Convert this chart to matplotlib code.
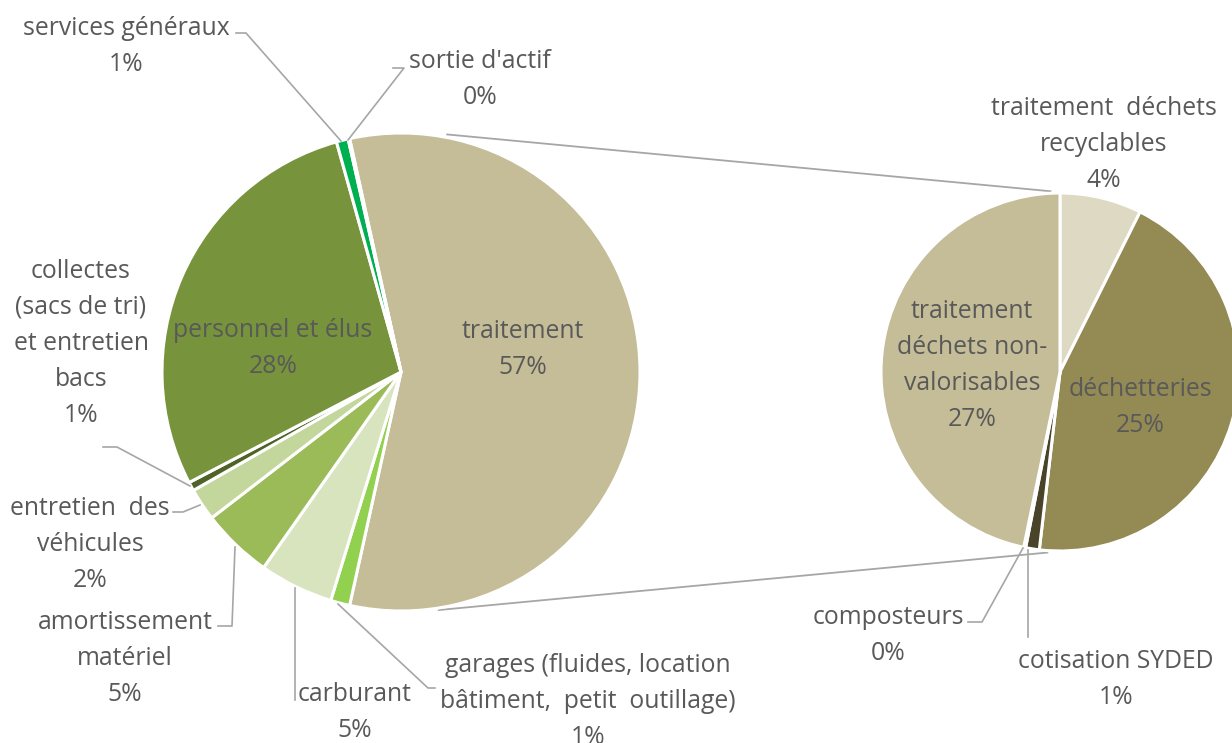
import matplotlib
matplotlib.use("Agg")
import matplotlib.pyplot as plt
import numpy as np

# ---------------- data ----------------
main_labels = ["traitement", "garages (fluides, location\nbâtiment,  petit  outillage)", "carburant",
               "amortissement\nmatériel", "entretien  des\nvéhicules",
               "collectes\n(sacs de tri)\net entretien\nbacs", "personnel et élus",
               "services généraux", "sortie d'actif"]
other_values = [1.3, 5.0, 4.8, 2.2, 0.6, 28.3, 0.8, 0.1]   # main pie slices after "traitement"

sub_labels = ["traitement  déchets\nrecyclables", "déchetteries", "cotisation SYDED", "composteurs",
              "traitement\ndéchets non-\nvalorisables"]
sub_values = [4.2, 25.3, 0.7, 0.1, 26.6]

main_colors = ["#C4BD97", "#92D050", "#D7E4BD", "#9BBB59", "#C3D69B", "#4F6228", "#77933C", "#00B050", "#FFFFFF"]
sub_colors = ["#DDD9C3", "#948A54", "#494429", "#FFFFFF", "#C4BD97"]

main_values = [sum(sub_values)] + other_values
total = sum(main_values)

# ---------------- figure ----------------
W, H = 1232, 743
fig = plt.figure(figsize=(W / 100, H / 100), dpi=100)
ax = fig.add_axes([0, 0, 1, 1])

def Y(y):
    return H - y

TXT = "#595959"
LEAD = "#A6A6A6"
FONT = "Open Sans"
FS = 17.8

mc = (401, Y(372)); mr = 239
sc = (1060, Y(372)); sr = 179
t_deg = main_values[0] / total * 360

ax.pie(main_values, colors=main_colors, startangle=t_deg / 2, counterclock=False,
       center=mc, radius=mr, wedgeprops=dict(edgecolor="white", linewidth=2.2))
ax.pie(sub_values, colors=sub_colors, startangle=90, counterclock=False,
       center=sc, radius=sr, wedgeprops=dict(edgecolor="white", linewidth=2.2))

# connector lines between the two pies
def pt(c, r, ang):
    a = np.deg2rad(ang)
    return c[0] + r * np.cos(a), c[1] + r * np.sin(a)

p1 = pt(mc, mr + 3, 79); p2 = pt(sc, sr + 2, 93)
q1 = pt(mc, mr + 2, -81); q2 = pt(sc, sr + 2, -94)
ax.plot([p1[0], p2[0]], [p1[1], p2[1]], color=LEAD, lw=1.3, zorder=0)
ax.plot([q1[0], q2[0]], [q1[1], q2[1]], color=LEAD, lw=1.3, zorder=0)

def pct(v):
    return f"{round(100 * v / total):.0f}%"

def label(text, v, cx, y0, step=36):
    lines = text.split("\n") + [pct(v)]
    for i, ln in enumerate(lines):
        ax.text(cx, Y(y0 + i * step), ln, ha="center", va="baseline",
                fontsize=FS, color=TXT, family=FONT, zorder=5)

def leader(pts):
    xs = [p[0] for p in pts]; ys = [Y(p[1]) for p in pts]
    ax.plot(xs, ys, color=LEAD, lw=1.2, zorder=4)

# main pie labels (center x, first baseline y)
main_pos = [(523, 338), (588, 672), (355, 701), (125, 629), (90, 515),
            (81, 278), (273, 337), (126, 35), (480, 68)]
for lab, v, (cx, y0) in zip(main_labels, main_values, main_pos):
    label(lab, v, cx, y0)

sub_pos = [(1104, 115), (1140, 396), (1116, 668), (888, 624), (972, 318)]
for lab, v, (cx, y0) in zip(sub_labels, sub_values, sub_pos):
    label(lab, v, cx, y0)

# leader lines
leader([(236, 33), (246, 33), (341, 141)])        # services généraux
leader([(393, 68), (404, 68), (348, 140)])        # sortie d'actif
leader([(103, 447), (117, 447), (190, 486)])      # collectes
leader([(173, 512), (183, 512), (200, 505)])      # entretien
leader([(218, 626), (232, 626), (235, 547)])      # amortissement
leader([(295, 700), (295, 588)])                  # carburant
leader([(435, 688), (428, 688), (338, 604)])      # garages
leader([(968, 622), (982, 622), (1023, 548)])     # composteurs
leader([(1028, 637), (1028, 550)])                # cotisation

ax.set_xlim(0, W); ax.set_ylim(0, H)
ax.set_aspect("auto")
ax.axis("off")
fig.savefig("out.png", dpi=100)
